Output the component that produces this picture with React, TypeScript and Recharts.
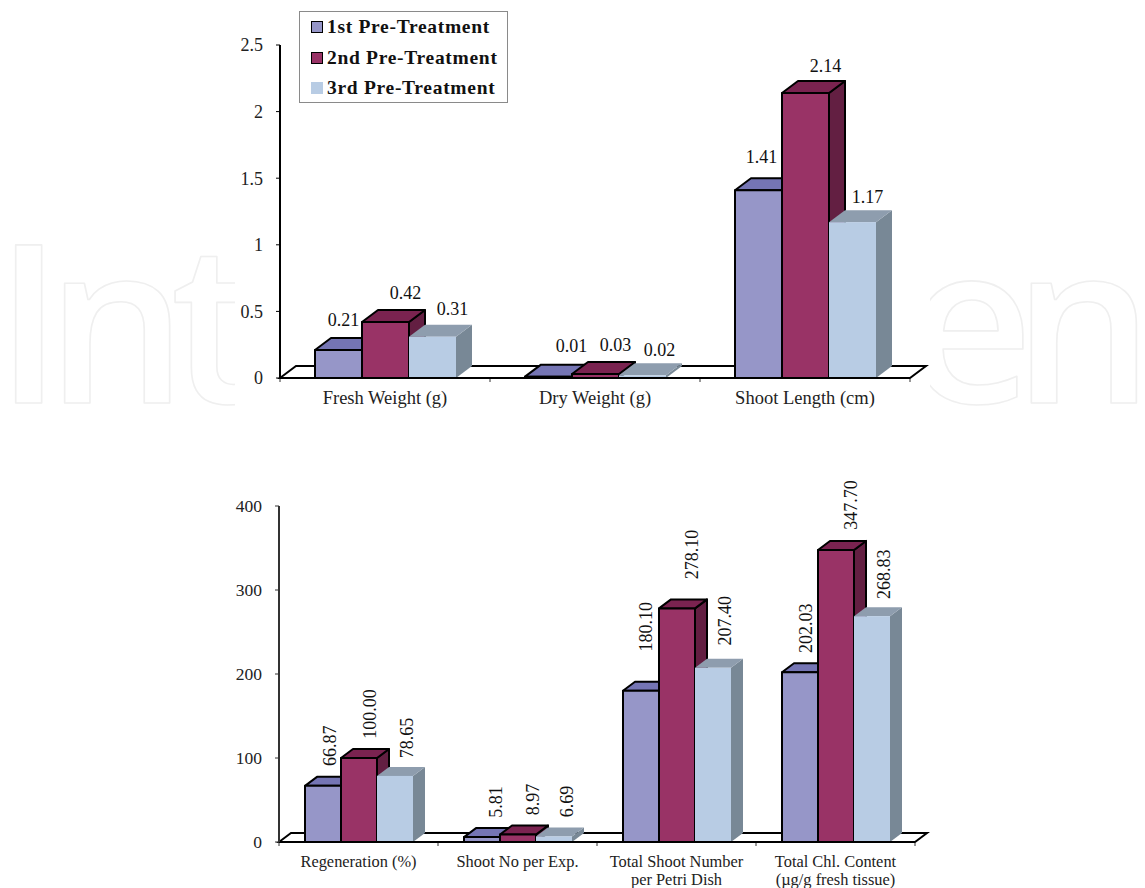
import React from 'react';
import { BarChart, Bar, XAxis, YAxis, LabelList, usePlotArea } from 'recharts';

const topCategories = ['Fresh Weight (g)', 'Dry Weight (g)', 'Shoot Length (cm)'];
const topFirst = [0.21, 0.01, 1.41];
const topSecond = [0.42, 0.03, 2.14];
const topThird = [0.31, 0.02, 1.17];
const topTicks = [0, 0.5, 1, 1.5, 2, 2.5];

const bottomCategories = ['Regeneration (%)', 'Shoot No per Exp.', 'Total Shoot Number\nper Petri Dish', 'Total Chl. Content\n(µg/g fresh tissue)'];
const bottomFirst = [66.87, 5.81, 180.1, 202.03];
const bottomSecond = [100.0, 8.97, 278.1, 347.7];
const bottomThird = [78.65, 6.69, 207.4, 268.83];
const bottomTicks = [0, 100, 200, 300, 400];

const seriesNames = ['1st Pre-Treatment', '2nd Pre-Treatment', '3rd Pre-Treatment'];

const topData = topCategories.map((name, i) => ({ name, a: topFirst[i], b: topSecond[i], c: topThird[i] }));
const bottomData = bottomCategories.map((name, i) => ({ name, a: bottomFirst[i], b: bottomSecond[i], c: bottomThird[i] }));

// Styling tables
const looks = [
  { front: '#9696C8', top: '#7575B4', side: '#5F5F9A', stroke: '#000' },
  { front: '#993366', top: '#7A2350', side: '#631F42', stroke: '#000' },
  { front: '#B8CCE4', top: '#8E9DAE', side: '#788896', stroke: 'none' },
];
// Hand-placed label nudges per series, per category: [dx, dy] from the bar's top centre
const topNudge = [
  [[5, -30], [23, -31], [3, -33]],
  [[20, -29], [20, -29], [20, -27]],
  [[20, -28], [17, -25], [15, -25]],
];
const bottomNudge = [
  [[7, -40], [14, -35], [5, -64], [6, -44]],
  [[11, -44], [15, -35], [15, -54], [15, -45]],
  [[12, -38], [13, -35], [12, -47], [12, -42]],
];

const FONT = '"Liberation Serif", serif';

function Box3D(props: any) {
  const { x, y, width, height, look, dx, dy, sw } = props;
  const l = looks[look];
  const r = x + width;
  const b = y + height;
  return (
    <g stroke={l.stroke} strokeWidth={sw} strokeLinejoin="round">
      <polygon points={`${r},${y} ${r + dx},${y - dy} ${r + dx},${b - dy} ${r},${b}`} fill={l.side} />
      <polygon points={`${x},${y} ${x + dx},${y - dy} ${r + dx},${y - dy} ${r},${y}`} fill={l.top} />
      <rect x={x} y={y} width={width} height={height} fill={l.front} />
    </g>
  );
}

function Floor({ dx, dy, count, sw }: any) {
  const area = usePlotArea();
  if (!area) return null;
  const { x, y, width, height } = area;
  const b = y + height;
  const r = x + width;
  const step = width / count;
  return (
    <g>
      <polygon
        points={`${x},${b} ${x + dx},${b - dy} ${r + dx},${b - dy} ${r},${b}`}
        fill="#fff"
        stroke="#000"
        strokeWidth={sw}
      />
      {Array.from({ length: count + 1 }, (_, i) => (
        <line key={i} x1={x + i * step} x2={x + i * step} y1={b} y2={b + 4} stroke="#333" strokeWidth={1} />
      ))}
    </g>
  );
}

function CategoryTick({ x, y, payload, size, offsetY, lineH }: any) {
  const lines = String(payload.value).split('\n');
  return (
    <text x={x} y={y + offsetY} textAnchor="middle" fontFamily={FONT} fontSize={size} fill="#222">
      {lines.map((t, i) => (
        <tspan key={i} x={x} dy={i === 0 ? 0 : lineH}>{t}</tspan>
      ))}
    </text>
  );
}

function ValueLabel({ x, y, width, index, value, nudge, rotate, digits, size }: any) {
  const cx = x + width / 2 + nudge[index][0];
  const cy = y + nudge[index][1];
  const t = Number(value).toFixed(digits);
  return (
    <text
      x={cx}
      y={cy}
      textAnchor="middle"
      dominantBaseline="central"
      fontFamily={FONT}
      fontSize={size}
      fill="#111"
      transform={rotate ? `rotate(-90 ${cx} ${cy})` : undefined}
    >
      {t}
    </text>
  );
}

function LegendBox() {
  return (
    <div
      style={{
        position: 'absolute',
        left: 299,
        top: 11,
        width: 207,
        height: 90,
        border: '1px solid #8a8a8a',
        background: '#fff',
        fontFamily: FONT,
        fontWeight: 700,
        fontSize: 19.5,
        letterSpacing: 0.7,
        color: '#111',
      }}
    >
      {seriesNames.map((n, i) => (
        <div key={n} style={{ position: 'absolute', left: 11, top: 4 + i * 30.5, height: 22, lineHeight: '22px', whiteSpace: 'nowrap' }}>
          <span
            style={{
              position: 'absolute',
              left: 0,
              top: 5,
              width: i === 2 ? 12 : 10,
              height: i === 2 ? 12 : 10,
              boxSizing: 'content-box',
              background: looks[i].front,
              border: i === 2 ? 'none' : '1.5px solid #000',
            }}
          />
          <span style={{ marginLeft: 16 }}>{n}</span>
        </div>
      ))}
    </div>
  );
}

function Panel({ data, ticks, max, top, height, margin, axisHeight, barSize, gap, dx, dy, nudge, rotate, digits, fmt, tickSize, catSize, catOffset, sw, axisColor, labelSize }: any) {
  return (
    <div style={{ position: 'absolute', left: 0, top, width: 1145, height }}>
      <BarChart width={1145} height={height} data={data} margin={margin} barGap={0} barSize={barSize} barCategoryGap={gap}>
        <Floor dx={dx} dy={dy} count={data.length} sw={sw} />
        <XAxis
          dataKey="name"
          interval={0}
          tickLine={false}
          axisLine={{ stroke: '#000', strokeWidth: sw }}
          height={axisHeight}
          tick={<CategoryTick size={catSize} offsetY={catOffset} lineH={18} />}
        />
        <YAxis
          type="number"
          domain={[0, max]}
          ticks={ticks}
          interval={0}
          width={40}
          tickLine={{ stroke: axisColor, strokeWidth: 1 }}
          tickSize={4}
          tickMargin={13}
          axisLine={{ stroke: axisColor, strokeWidth: 2 }}
          tickFormatter={fmt}
          tick={{ fontFamily: FONT, fontSize: tickSize, fill: '#222' }}
        />
        {(['a', 'b', 'c'] as const).map((k, i) => (
          <Bar
            key={k}
            dataKey={k}
            name={seriesNames[i]}
            isAnimationActive={false}
            shape={(p: any) => <Box3D {...p} look={i} dx={dx} dy={dy} sw={sw} />}
          >
            <LabelList
              dataKey={k}
              content={(p: any) => <ValueLabel {...p} nudge={nudge[i]} rotate={rotate} digits={digits} size={labelSize} />}
            />
          </Bar>
        ))}
      </BarChart>
    </div>
  );
}

function Watermark() {
  const common = {
    y: 403,
    fontFamily: '"Open Sans", sans-serif',
    fontWeight: 600,
    fontSize: 221,
    fill: '#fff',
    stroke: '#efefef',
    strokeWidth: 1.6,
    strokeLinejoin: 'round' as const,
  };
  return (
    <svg width={1145} height={888} style={{ position: 'absolute', left: 0, top: 0 }}>
      <text x={-5} letterSpacing={-16} {...common}>Int</text>
      <text x={906} letterSpacing={-20} {...common}>en</text>
      <rect x={235} y={0} width={695} height={888} fill="#fff" />
    </svg>
  );
}

export default function App() {
  return (
    <div style={{ position: 'absolute', left: 0, top: 0, width: 1145, height: 888, overflow: 'hidden', background: '#fff' }}>
      <Watermark />
      <Panel
        data={topData}
        ticks={topTicks}
        max={2.5}
        top={0}
        height={444}
        margin={{ left: 240, right: 235, top: 45, bottom: 0 }}
        axisHeight={66}
        barSize={47}
        gap={34}
        dx={16}
        dy={12}
        nudge={topNudge}
        rotate={false}
        digits={2}
        fmt={(v: number) => String(v)}
        tickSize={18}
        catSize={18.5}
        catOffset={18}
        sw={2}
        axisColor="#000"
        labelSize={18}
      />
      <Panel
        data={bottomData}
        ticks={bottomTicks}
        max={400}
        top={444}
        height={444}
        margin={{ left: 239, right: 230, top: 62, bottom: 0 }}
        axisHeight={46}
        barSize={36}
        gap={26}
        dx={12}
        dy={9}
        nudge={bottomNudge}
        rotate
        digits={2}
        fmt={(v: number) => String(v)}
        tickSize={17.5}
        catSize={16.4}
        catOffset={16.5}
        sw={2}
        axisColor="#333"
        labelSize={18}
      />
      <LegendBox />
    </div>
  );
}
